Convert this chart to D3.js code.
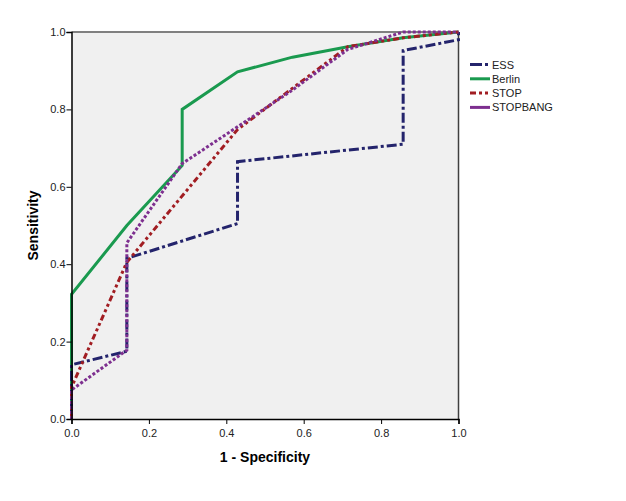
<!DOCTYPE html>
<html>
<head>
<meta charset="utf-8">
<script src="https://cdn.jsdelivr.net/npm/d3@7"></script>
<style>
  body { margin: 0; background: #fff; }
  text { font-family: Arial, "Liberation Sans", sans-serif; }
</style>
</head>
<body>
<div id="visual-container"></div>
<script>
// ROC curves: 1 - specificity vs sensitivity
const seriesNames = ["ESS", "Berlin", "STOP", "STOPBANG"]
const essFpr  = [0, 0, 0.143, 0.143, 0.429, 0.429, 0.857, 0.857, 1, 1]
const essTpr  = [0, 0.14, 0.175, 0.415, 0.505, 0.665, 0.71, 0.952, 0.98, 1]
const berlinFpr = [0, 0, 0.143, 0.286, 0.286, 0.429, 0.571, 0.714, 0.857, 1]
const berlinTpr = [0, 0.322, 0.5, 0.655, 0.8, 0.897, 0.935, 0.962, 0.985, 1]
const stopFpr = [0, 0, 0.143, 0.429, 0.714, 0.857, 1]
const stopTpr = [0, 0.082, 0.405, 0.748, 0.962, 0.985, 1]
const stopbangFpr = [0, 0, 0.143, 0.143, 0.286, 0.429, 0.571, 0.714, 0.857, 1]
const stopbangTpr = [0, 0.075, 0.178, 0.455, 0.66, 0.755, 0.85, 0.955, 1, 1]
const tickValues = [0, 0.2, 0.4, 0.6, 0.8, 1.0]

const width = 626
const height = 501
const plotLeft = 71.5
const plotRight = 458.5
const plotTop = 32
const plotBottom = 419

const colors = ["#24246c", "#1a9a4f", "#a11d22", "#7d2f8f"]
const dashes = ["10,3,3,3", null, "6,3,3,3,3,3", "3,2"]

const svg = d3.select('#visual-container')
              .append('svg')
              .attr('width', width)
              .attr('height', height)

const xScale = d3.scaleLinear().domain([0, 1]).range([plotLeft, plotRight])
const yScale = d3.scaleLinear().domain([0, 1]).range([plotBottom, plotTop])

// plot background and frame
svg.append('rect')
    .attr('x', plotLeft)
    .attr('y', plotTop)
    .attr('width', plotRight - plotLeft)
    .attr('height', plotBottom - plotTop)
    .attr('fill', '#f0f0f0')

svg.append('line')
    .attr('x1', plotLeft).attr('x2', plotRight)
    .attr('y1', plotTop).attr('y2', plotTop)
    .attr('stroke', '#808080').attr('stroke-width', 2)
svg.append('line')
    .attr('x1', plotRight).attr('x2', plotRight)
    .attr('y1', plotTop).attr('y2', plotBottom)
    .attr('stroke', '#404040').attr('stroke-width', 1.5)

const series = [
    essFpr.map((x, i) => [x, essTpr[i]]),
    berlinFpr.map((x, i) => [x, berlinTpr[i]]),
    stopFpr.map((x, i) => [x, stopTpr[i]]),
    stopbangFpr.map((x, i) => [x, stopbangTpr[i]])
]

const line = d3.line()
               .x(d => xScale(d[0]))
               .y(d => yScale(d[1]))

// draw order: Berlin under the others
const order = [1, 0, 2, 3]
order.forEach(k => {
    svg.append('path')
        .datum(series[k])
        .attr('d', line)
        .attr('fill', 'none')
        .attr('stroke', colors[k])
        .attr('stroke-width', 3)
        .attr('stroke-dasharray', dashes[k])
})

// axes
const xAxis = d3.axisBottom(xScale)
                .tickValues(tickValues)
                .tickFormat(d3.format('.1f'))
                .tickSizeOuter(0)
                .tickSize(5)
const yAxis = d3.axisLeft(yScale)
                .tickValues(tickValues)
                .tickFormat(d3.format('.1f'))
                .tickSizeOuter(0)
                .tickSize(5)

const gx = svg.append('g')
    .attr('transform', 'translate(0,' + plotBottom + ')')
    .call(xAxis)
gx.select('.domain').attr('stroke', '#000').attr('stroke-width', 1.5)
gx.selectAll('text').attr('font-size', 11).attr('fill', '#222').attr('dy', '0.9em')

const gy = svg.append('g')
    .attr('transform', 'translate(' + plotLeft + ',0)')
    .call(yAxis)
gy.select('.domain').attr('stroke', '#000').attr('stroke-width', 1.5)
gy.selectAll('text').attr('font-size', 11).attr('fill', '#222').attr('x', -6)

// axis titles
svg.append('text')
    .attr('x', (plotLeft + plotRight) / 2)
    .attr('y', 462)
    .attr('text-anchor', 'middle')
    .attr('font-size', 14)
    .attr('font-weight', 'bold')
    .text('1 - Specificity')

svg.append('text')
    .attr('transform', 'translate(38,' + (plotTop + plotBottom) / 2 + ') rotate(-90)')
    .attr('text-anchor', 'middle')
    .attr('font-size', 14)
    .attr('font-weight', 'bold')
    .text('Sensitivity')

// legend
const legend = svg.append('g')
seriesNames.forEach((name, i) => {
    const y = 64.5 + i * 14.3
    legend.append('line')
        .attr('x1', 470).attr('x2', 490)
        .attr('y1', y).attr('y2', y)
        .attr('stroke', colors[i])
        .attr('stroke-width', 3)
        .attr('stroke-dasharray', i === 0 ? '12,3,3,3' : i === 2 ? '6,3,3,3,3,3' : null)
    legend.append('text')
        .attr('x', 492)
        .attr('y', y + 4)
        .attr('font-size', 11)
        .attr('fill', '#222')
        .text(name)
})
</script>
</body>
</html>
